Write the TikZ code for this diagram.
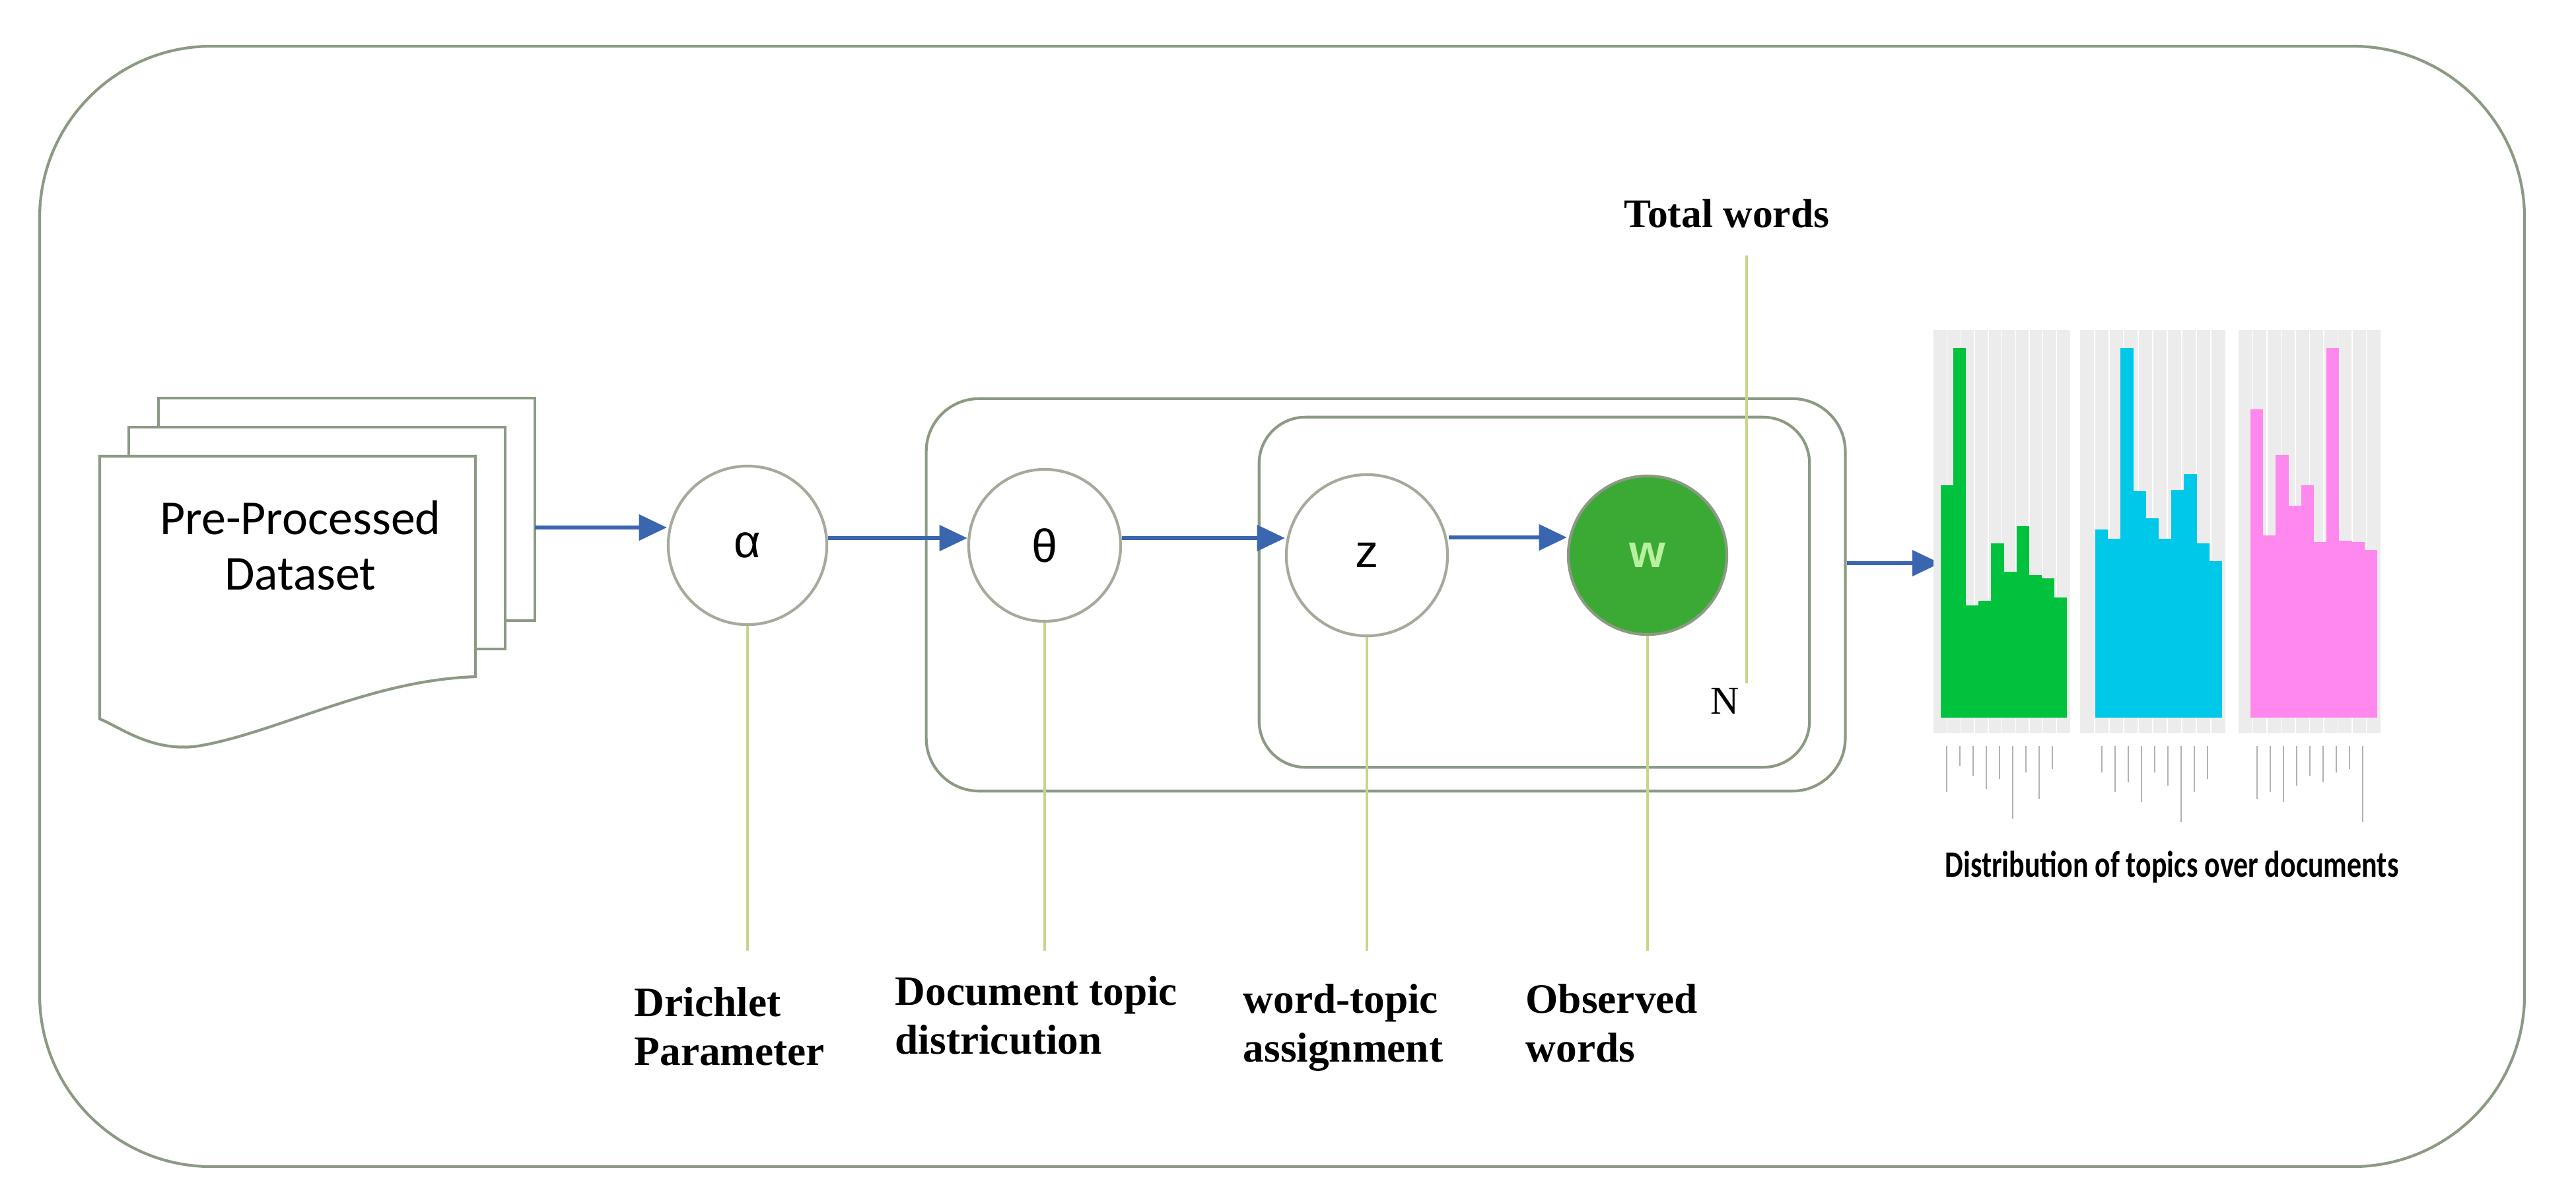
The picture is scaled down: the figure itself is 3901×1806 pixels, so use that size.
\documentclass[tikz,border=0pt]{standalone}
\usepackage{fontspec}
\setmainfont{Liberation Serif}
\newfontfamily\carl{Carlito}
\newfontfamily\lsans{Liberation Sans}
\usetikzlibrary{arrows.meta}
\definecolor{frame}{HTML}{8C9A84}
\definecolor{cframe}{HTML}{A4AB9C}
\definecolor{arr}{HTML}{3A66B0}
\definecolor{lead}{HTML}{C5D68C}
\definecolor{wfill}{HTML}{3AAA35}
\definecolor{wtext}{HTML}{B8F0A0}
\definecolor{gG}{HTML}{00C23C}
\definecolor{gC}{HTML}{00C8E8}
\definecolor{gP}{HTML}{FF88EE}
\definecolor{panel}{HTML}{ECECEC}
\begin{document}
\begin{tikzpicture}[x=0.01cm,y=-0.01cm,
  fr/.style={draw=frame,line width=1.2pt},
  var/.style={circle,draw=cframe,line width=1.2pt,fill=white,inner sep=0pt,font=\lsans\fontsize{20}{24}\selectfont},
  flow/.style={draw=arr,line width=1.6pt,-{Triangle[length=12pt,width=11pt]}},
  leader/.style={draw=lead,line width=1pt},
  lbl/.style={font=\bfseries\fontsize{18}{21}\selectfont,align=left,anchor=north west,inner sep=0pt},
  plate/.style={fr,rectangle,inner sep=0pt}]
\useasboundingbox (0,0) rectangle (3901,1806);
% outer frame
\draw[fr,rounded corners=2.6cm] (60,70) rectangle (3823,1767);
% dataset stack
\draw[fr,fill=white] (240,603) -- (810,603) -- (810,940) -- (765,940) -- (765,647) -- (240,647) -- cycle;
\draw[fr,fill=white] (195,647) -- (765,647) -- (765,983) -- (720,983) -- (720,691) -- (195,691) -- cycle;
\draw[fr,fill=white] (151,691) -- (720,691) -- (720,1025) .. controls (560,1030) and (420,1110) .. (300,1130) .. controls (230,1140) and (180,1100) .. (151,1089) -- cycle;
\node[font=\carl\fontsize{21}{24}\selectfont,align=center,inner sep=0pt] (ds) at (455,826) {Pre-Processed\\Dataset};
\coordinate (dsout) at (810,799);
% plates
\node[plate,rounded corners=0.8cm,minimum width=13.91cm,minimum height=5.94cm] (outerplate) at (2098.5,901) {};
\node[plate,rounded corners=0.7cm,minimum width=8.33cm,minimum height=5.30cm] (innerplate) at (2323.5,897) {};
% variables
\node[var,minimum size=2.4cm] (alpha) at (1132,826) {α};
\node[var,minimum size=2.3cm] (theta) at (1582,826) {θ};
\node[var,minimum size=2.44cm] (z) at (2070,841) {z};
\node[var,minimum size=2.4cm,draw=frame,fill=wfill,text=wtext] (w) at (2495,841) {\bfseries w};
\node[font=\fontsize{17}{20}\selectfont] (N) at (2612,1062) {N};
% arrows
\draw[flow] (dsout) -- (alpha.west |- dsout);
\draw[flow] (alpha.east |- 0,815) -- (theta.west |- 0,815);
\draw[flow] (theta.east |- 0,815) -- (z.west |- 0,815);
\draw[flow] (z.east |- 0,814) -- (w.west |- 0,814);
\coordinate (chartin) at (2938,853);
\draw[flow] (outerplate.east |- chartin) -- (chartin);
% leaders and labels
\coordinate (la) at (1124,1440); \coordinate (lt) at (1594,1440);
\coordinate (lz) at (2073,1440); \coordinate (lw) at (2492,1440);
\draw[leader] (alpha.south) -- (alpha.south |- la);
\draw[leader] (theta.south) -- (theta.south |- lt);
\draw[leader] (z.south) -- (z.south |- lz);
\draw[leader] (w.south) -- (w.south |- lw);
\node[lbl] (l1) at (960,1495) {Drichlet\\Parameter};
\node[lbl] (l2) at (1355,1478) {Document topic\\districution};
\node[lbl] (l3) at (1882,1490) {word-topic\\assignment};
\node[lbl] (l4) at (2310,1490) {Observed\\words};
\node[font=\bfseries\fontsize{17.5}{20}\selectfont] (tw) at (2615,323) {Total words};
\coordinate (twend) at (2645,1035);
\draw[leader] (2645,387) -- (twend);
% charts
\foreach \px/\pw in {2928/207,3150/220,3390/215}{
  \fill[panel] (\px,500) rectangle (\px+\pw,1110);
  \foreach \k in {1,...,9} \draw[white,line width=0.4pt] (\px+\k*\pw/10,500) -- (\px+\k*\pw/10,1110);
}
\foreach \h [count=\i from 0] in {735,527,917,910,823,866,797,871,876,905}
  \fill[gG] (2939+\i*19.1,\h) rectangle (2939+\i*19.1+19.1,1087);
\foreach \h [count=\i from 0] in {802,816,527,744,785,816,742,718,823,850}
  \fill[gC] (3173+\i*19.2,\h) rectangle (3173+\i*19.2+19.2,1087);
\foreach \h [count=\i from 0] in {620,811,689,766,735,821,527,819,821,833}
  \fill[gP] (3408+\i*19.2,\h) rectangle (3408+\i*19.2+19.2,1087);
\foreach \x/\l in {2948/1200,2968/1160,2988/1175,3008/1195,3028/1180,3048/1240,3068/1170,3088/1210,3108/1165,
                   3183/1170,3203/1200,3223/1185,3243/1215,3263/1170,3283/1190,3303/1245,3323/1200,3343/1180,
                   3418/1210,3438/1200,3458/1215,3478/1190,3498/1175,3518/1185,3538/1170,3558/1165,3578/1245}
  \draw[gray!60,line width=0.6pt] (\x,1130) -- (\x,\l);
\node[font=\carl\bfseries\fontsize{16}{19}\selectfont,xscale=0.78,inner sep=0pt] (cap) at (3289,1313) {Distribution of topics over documents};
\end{tikzpicture}
\end{document}
